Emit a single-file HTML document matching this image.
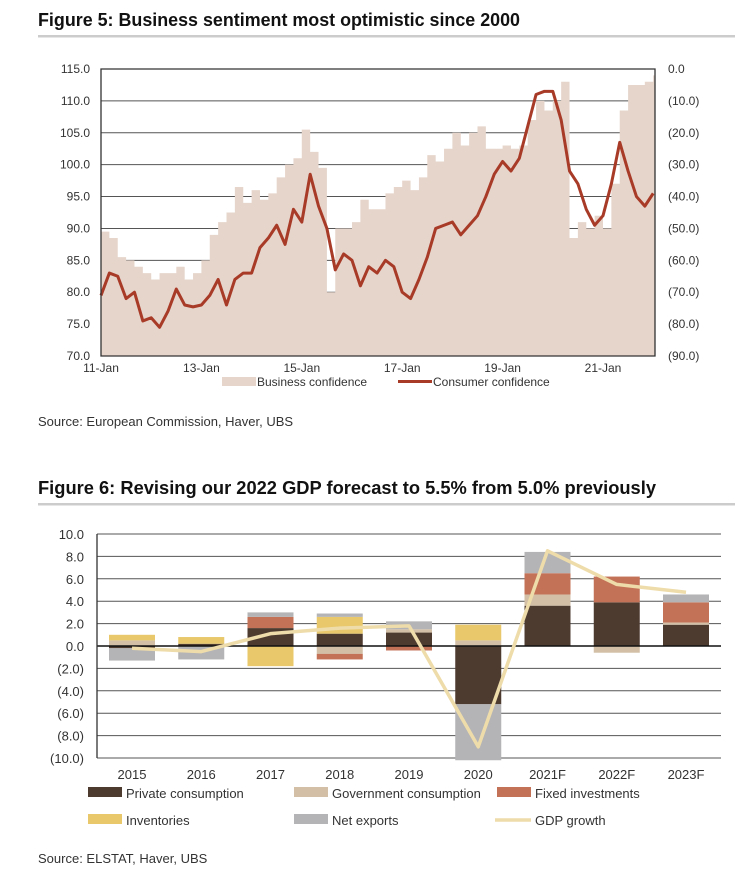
<!DOCTYPE html>
<html><head><meta charset="utf-8"><style>
body{margin:0;background:#fff;width:735px;height:877px;overflow:hidden;font-family:"Liberation Sans",sans-serif}
svg{display:block}
</style></head><body>
<svg id="s" width="735" height="877" xmlns="http://www.w3.org/2000/svg" font-family="Liberation Sans, sans-serif">
<text x="38" y="26" font-size="18" font-weight="bold" textLength="482" lengthAdjust="spacingAndGlyphs" fill="#111">Figure 5: Business sentiment most optimistic since 2000</text>
<rect x="38" y="35" width="697" height="2.5" fill="#ccc"/>
<g id="c1"></g>
<text x="38" y="426" font-size="13" fill="#333">Source: European Commission, Haver, UBS</text>
<text x="38" y="494" font-size="18" font-weight="bold" textLength="618" lengthAdjust="spacingAndGlyphs" fill="#111">Figure 6: Revising our 2022 GDP forecast to 5.5% from 5.0% previously</text>
<rect x="38" y="503" width="697" height="2.5" fill="#ccc"/>
<g id="c2"></g>
<text x="38" y="863" font-size="13" fill="#333">Source: ELSTAT, Haver, UBS</text>
</svg>
<script>
// ---- Figure 5 data (bimonthly from Jan 2011) ----
const business = [89.5,88.5,85.5,85,84,83, 82,83,83,84,82,83, 85,89,91,92.5,96.5,94, 96,94.5,95.5,98,100,101, 105.5,102,99.5,80,90,90, 91,94.5,93,93,95.5,96.5, 97.5,96,98,101.5,100.5,102.5, 105,103,105,106,102.5,102.5, 103,102.5,103,107,110,108.5, 110,113,88.5,91,90,92, 90,97,108.5,112.5,112.5,113, 114];
const consumer = [-71,-64,-65,-72,-70,-79, -78,-81,-76,-69,-74,-74.6, -74,-71,-66,-74,-66,-64, -64,-56,-53,-49,-55,-44, -48,-33,-43,-50,-63,-58, -60,-68,-62,-64,-60,-62, -70,-72,-66,-59,-50,-49, -48,-52,-49,-46,-40,-33, -29,-32,-28,-18,-8,-7, -7,-16,-32,-36,-44,-49, -46,-36,-23,-32,-40,-43, -39];
const leftTicks = ["70.0","75.0","80.0","85.0","90.0","95.0","100.0","105.0","110.0","115.0"];
const rightTicks = ["(90.0)","(80.0)","(70.0)","(60.0)","(50.0)","(40.0)","(30.0)","(20.0)","(10.0)","0.0"];
const xLabels = ["11-Jan","13-Jan","15-Jan","17-Jan","19-Jan","21-Jan"];
// ---- Figure 6 data ----
const years = ["2015","2016","2017","2018","2019","2020","2021F","2022F","2023F"];
const privateC = [-0.2,0.2,1.6,1.1,1.2,-5.2,3.6,3.9,1.9];
const govC = [0.5,0,0,-0.7,0.3,0.5,1.0,-0.6,0.2];
const fixedI = [0,0,1.0,-0.5,-0.4,0,1.9,2.3,1.8];
const invent = [0.5,0.6,-1.8,1.5,0,1.4,0,0,0];
const netExp = [-1.1,-1.2,0.4,0.3,0.7,-5.0,1.9,0,0.7];
const gdp = [-0.2,-0.5,1.1,1.6,1.8,-9.0,8.5,5.5,4.8];
const gdpTicks = ["(10.0)","(8.0)","(6.0)","(4.0)","(2.0)","0.0","2.0","4.0","6.0","8.0","10.0"];

const NS="http://www.w3.org/2000/svg";
function mk(p,tag,a,txt){const e=document.createElementNS(NS,tag);for(const k in a)e.setAttribute(k,a[k]);if(txt!=null)e.textContent=txt;p.appendChild(e);return e;}

// ---- Chart 1 ----
const c1=document.getElementById('c1');
const L1=101,R1=655,T1=69,B1=356;
const yL=v=>B1-(v-70)/45*(B1-T1);
const yR=v=>B1-(v+90)/90*(B1-T1);
const perYear=50.2;
const xI=i=>L1+i*perYear/6;
for(let k=0;k<leftTicks.length;k++){
  const y=yL(70+5*k);
  if(k>0){const g=mk(c1,'line',{x1:L1,x2:R1,y1:y,y2:y,stroke:'#555','stroke-width':1});
  
  }
  const t=mk(c1,'text',{x:90,y:y+4,'font-size':12,'text-anchor':'end',fill:'#333'},leftTicks[k]);
  
  
  const t2=mk(c1,'text',{x:668,y:yR(-90+10*k)+4,'font-size':12,fill:'#333'},rightTicks[k]);
  
  
}
let d='M'+L1+','+B1;
for(let i=0;i<business.length;i++){const x0=xI(i),x1=Math.min(xI(i+1),R1);d+=' L'+x0+','+yL(business[i])+' L'+x1+','+yL(business[i]);}
d+=' L'+R1+','+B1+' Z';
const area=mk(c1,'path',{d:d,fill:'#e6d5cb'});


const pts=consumer.map((v,i)=>xI(i)+','+yR(v)).join(' ');
const ln=mk(c1,'polyline',{points:pts,fill:'none',stroke:'#a83a28','stroke-width':3,'stroke-linejoin':'round'});


const fr=mk(c1,'path',{d:`M${L1},${T1} H${R1} V${B1} H${L1} Z`,fill:'none',stroke:'#333','stroke-width':1.3});


xLabels.forEach((s,k)=>{const t=mk(c1,'text',{x:L1+k*2*perYear,y:372,'font-size':12,'text-anchor':'middle',fill:'#333'},s);

});
const lg1=mk(c1,'g',{});


mk(lg1,'rect',{x:222,y:377,width:34,height:9,fill:'#e6d5cb'});
mk(lg1,'text',{x:257,y:386,'font-size':12,fill:'#333'},'Business confidence');
mk(lg1,'line',{x1:398,x2:432,y1:381.5,y2:381.5,stroke:'#a83a28','stroke-width':3});
mk(lg1,'text',{x:433,y:386,'font-size':12,fill:'#333'},'Consumer confidence');

// ---- Chart 2 ----
const c2=document.getElementById('c2');
const L2=97,R2=721,T2=534,B2=758;
const yG=v=>T2+(10-v)/20*(B2-T2);
const xC=i=>132+i*69.25;
const BW=46;
gdpTicks.forEach((s,k)=>{const v=-10+2*k,y=yG(v);
  if(v!==0){const g=mk(c2,'line',{x1:L2,x2:R2,y1:y,y2:y,stroke:'#555','stroke-width':1});
  
  }
  const t=mk(c2,'text',{x:84,y:y+5,'font-size':13,'text-anchor':'end',fill:'#333'},s);
  
  });
const series=[[privateC,'#4e3b30','private-consumption'],[govC,'#d2bfa5','government-consumption'],[fixedI,'#c47257','fixed-investments'],[invent,'#e8c86a','inventories'],[netExp,'#b4b4b6','net-exports']];
years.forEach((yr,i)=>{let pos=0,neg=0;
  series.forEach(([arr,col,nm])=>{const v=arr[i];if(!v)return;let a,b;
    if(v>0){a=pos;b=pos+v;pos=b;}else{a=neg;b=neg+v;neg=b;}
    const r=mk(c2,'rect',{x:xC(i)-BW/2,y:yG(Math.max(a,b)),width:BW,height:Math.abs(yG(a)-yG(b)),fill:col});
    
    });
  const t=mk(c2,'text',{x:xC(i),y:779,'font-size':13,'text-anchor':'middle',fill:'#333'},yr);
  
  });
const z=mk(c2,'line',{x1:L2,x2:R2,y1:yG(0),y2:yG(0),stroke:'#111','stroke-width':1.5});


const ax=mk(c2,'line',{x1:L2,x2:L2,y1:T2,y2:B2,stroke:'#333','stroke-width':1.3});


const gl=mk(c2,'polyline',{points:gdp.map((v,i)=>xC(i)+','+yG(v)).join(' '),fill:'none',stroke:'#eedcaa','stroke-width':3.5,'stroke-linejoin':'round'});


const lg2=mk(c2,'g',{});


[['#4e3b30','Private consumption',88,793],['#d2bfa5','Government consumption',294,793],['#c47257','Fixed investments',497,793],['#e8c86a','Inventories',88,820],['#b4b4b6','Net exports',294,820]].forEach(([c,s,x,y])=>{
  mk(lg2,'rect',{x:x,y:y-6,width:34,height:10,fill:c});
  mk(lg2,'text',{x:x+38,y:y+5,'font-size':13,fill:'#333'},s);});
mk(lg2,'line',{x1:495,x2:531,y1:820,y2:820,stroke:'#eedcaa','stroke-width':3.5});
mk(lg2,'text',{x:535,y:825,'font-size':13,fill:'#333'},'GDP growth');
</script>
</body></html>
